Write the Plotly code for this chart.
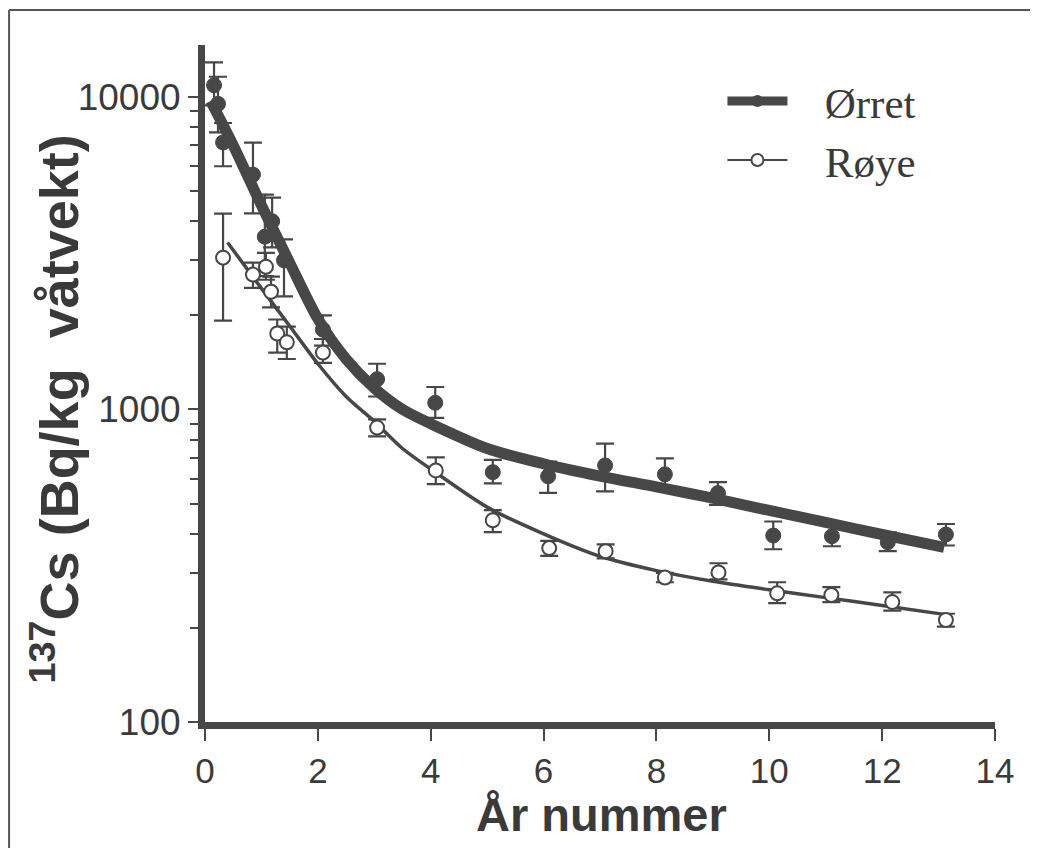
import plotly.graph_objects as go

# ---------------- data ----------------
orret_x = [0.16, 0.23, 0.32, 0.85, 1.06, 1.19, 1.40, 2.09, 3.05, 4.08, 5.10, 6.08, 7.09, 8.15, 9.09, 10.07, 11.11, 12.10, 13.13]
orret_y = [10900, 9500, 7150, 5640, 3570, 4000, 3000, 1800, 1250, 1050, 630, 611, 662, 620, 540, 395, 393, 376, 398]
orret_err_plus = [2000, 2100, 1100, 1500, 1300, 760, 500, 200, 150, 130, 60, 70, 115, 77, 45, 43, 30, 28, 32]
orret_err_minus = [1500, 1800, 1150, 1400, 900, 700, 700, 200, 150, 110, 50, 70, 115, 65, 45, 38, 28, 24, 31]

roye_x = [0.32, 0.85, 1.08, 1.17, 1.28, 1.45, 2.09, 3.05, 4.09, 5.10, 6.10, 7.10, 8.15, 9.10, 10.14, 11.10, 12.18, 13.13]
roye_y = [3060, 2700, 2860, 2380, 1750, 1640, 1520, 875, 638, 442, 360, 352, 290, 301, 258, 255, 242, 212]
roye_err_plus = [1170, 250, 310, 280, 190, 200, 160, 55, 64, 34, 20, 18, 10, 21, 22, 15, 18, 10]
roye_err_minus = [1135, 250, 260, 260, 230, 190, 110, 55, 61, 37, 20, 18, 10, 15, 18, 13, 15, 10]

orret_fit_x = [0.1, 0.5, 1.0, 1.5, 2.0, 2.5, 3.0, 3.5, 4.0, 5.0, 6.0, 7.0, 8.0, 9.0, 10.0, 11.0, 12.0, 13.1]
orret_fit_y = [9700, 7000, 4500, 2950, 1950, 1450, 1170, 1000, 900, 750, 670, 612, 565, 520, 475, 435, 398, 362]

roye_fit_x = [0.4, 1.0, 1.5, 2.0, 2.5, 3.0, 3.5, 4.0, 5.0, 6.0, 7.0, 8.0, 9.0, 10.0, 11.0, 12.0, 13.1]
roye_fit_y = [3420, 2440, 1850, 1400, 1100, 916, 750, 645, 487, 400, 339, 305, 282, 265, 250, 236, 221]

x_ticks = [0, 2, 4, 6, 8, 10, 12, 14]
y_ticks = [100, 1000, 10000]
y_ticklabels = ["100", "1000", "10000"]
y_minor = [200, 300, 400, 500, 600, 700, 800, 900,
           2000, 3000, 4000, 5000, 6000, 7000, 8000, 9000]

series_names = ["Ørret", "Røye"]
x_title = "<b>År nummer</b>"
y_title = "<b><sup>137</sup>Cs (Bq/kg  våtvekt)</b>"

# ---------------- style ----------------
INK = "#474747"
TXT = "#3a3a3a"
SANS = "Liberation Sans, Arial, sans-serif"
SERIF = "Liberation Serif, Times New Roman, serif"

fig = go.Figure()

# fitted curves
fig.add_trace(go.Scatter(x=orret_fit_x, y=orret_fit_y, mode="lines",
                         line=dict(color=INK, width=11, shape="spline", smoothing=0.8),
                         showlegend=False, hoverinfo="skip"))
fig.add_trace(go.Scatter(x=roye_fit_x, y=roye_fit_y, mode="lines",
                         line=dict(color=INK, width=3.5, shape="spline", smoothing=0.8),
                         showlegend=False, hoverinfo="skip"))

# data points with error bars
fig.add_trace(go.Scatter(x=orret_x, y=orret_y, mode="markers",
                         marker=dict(symbol="circle", size=15, color=INK,
                                     line=dict(color=INK, width=1)),
                         error_y=dict(type="data", symmetric=False, array=orret_err_plus,
                                      arrayminus=orret_err_minus, color=INK, thickness=2.2, width=9),
                         showlegend=False))
fig.add_trace(go.Scatter(x=roye_x, y=roye_y, mode="markers",
                         marker=dict(symbol="circle", size=14, color="white",
                                     line=dict(color=INK, width=2)),
                         error_y=dict(type="data", symmetric=False, array=roye_err_plus,
                                      arrayminus=roye_err_minus, color=INK, thickness=2.2, width=9),
                         showlegend=False))

# legend entries
fig.add_trace(go.Scatter(x=[None], y=[None], mode="lines+markers", name="   " + series_names[0],
                         line=dict(color=INK, width=9),
                         marker=dict(symbol="circle", size=12, color=INK)))
fig.add_trace(go.Scatter(x=[None], y=[None], mode="lines+markers", name="   " + series_names[1],
                         line=dict(color=INK, width=2),
                         marker=dict(symbol="circle", size=12, color="white",
                                     line=dict(color=INK, width=2))))

# the page body adds an 8px offset; margins compensate so the plot lands where the reference has it
fig.update_layout(
    width=1038, height=848,
    margin=dict(l=197, r=51, t=37, b=134),
    paper_bgcolor="white", plot_bgcolor="white",
    font=dict(family=SANS, color=INK),
    showlegend=True,
    legend=dict(x=0.655, y=0.968, xanchor="left", yanchor="top",
                bgcolor="rgba(0,0,0,0)", font=dict(family=SERIF, size=43, color=TXT),
                itemwidth=60, tracegroupgap=0),
    xaxis=dict(range=[0, 14], tickvals=x_ticks, ticks="outside", ticklen=12, tickwidth=2,
               tickcolor=INK, showline=True, linewidth=7, linecolor=INK, showgrid=False,
               zeroline=False, automargin=False,
               tickfont=dict(family=SANS, size=35, color=TXT)),
    yaxis=dict(type="log", range=[2, 4.166], tickvals=y_ticks, ticktext=y_ticklabels,
               ticks="outside", ticklen=10, tickwidth=2, tickcolor=INK,
               showline=True, linewidth=7, linecolor=INK, showgrid=False, zeroline=False,
               automargin=False,
               tickfont=dict(family=SANS, size=37, color=TXT),
               minor=dict(tickvals=y_minor, ticks="outside", ticklen=8, tickwidth=2,
                          tickcolor=INK, showgrid=False)),
)

# axis titles as annotations (placed like the reference)
fig.add_annotation(text=x_title, xref="paper", yref="paper", x=0.5025, y=-0.137,
                   xanchor="center", yanchor="middle", showarrow=False,
                   font=dict(family=SANS, size=47, color=TXT))
fig.add_annotation(text=y_title, xref="paper", yref="paper", x=-0.19, y=0.463,
                   xanchor="center", yanchor="middle", showarrow=False, textangle=-90,
                   font=dict(family=SANS, size=54, color=TXT))

# thin frame lines (top and left) around the figure
fig.add_shape(type="line", xref="paper", yref="paper", x0=-0.248, x1=1.2, y0=1.0517, y1=1.0517,
              line=dict(color="#555555", width=2), layer="below")
fig.add_shape(type="line", xref="paper", yref="paper", x0=-0.248, x1=-0.248, y0=1.0517, y1=-0.3,
              line=dict(color="#555555", width=2), layer="below")

fig.write_html("out.html")
